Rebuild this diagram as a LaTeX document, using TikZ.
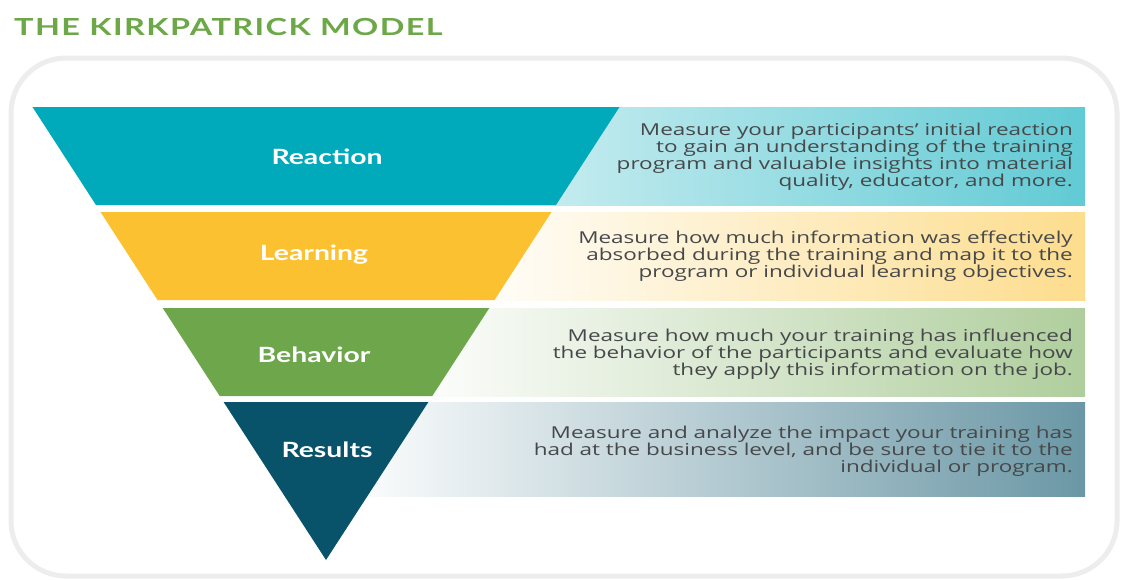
\documentclass[tikz,border=0pt]{standalone}
\usepackage{fontspec}
\setmainfont{Open Sans}
\newfontfamily\descfont[FakeStretch=1.37]{Open Sans}
\newfontfamily\levelfont[FakeStretch=1.35]{Lato}
\newfontfamily\titlefont[FakeStretch=1.38,LetterSpace=6]{Lato}

\definecolor{titlegreen}{RGB}{108,168,72}
\definecolor{reactcol}{RGB}{0,170,186}
\definecolor{learncol}{RGB}{251,193,48}
\definecolor{behavcol}{RGB}{110,166,76}
\definecolor{resultcol}{RGB}{8,82,106}
\definecolor{desctext}{RGB}{70,72,74}

\begin{document}
\begin{tikzpicture}[x=1pt, y=-1pt,
    level/.style = {font=\levelfont\bfseries\fontsize{21}{24}\selectfont, text=white},
    desc/.style = {font=\descfont\fontsize{16.4}{17}\selectfont, text=desctext, align=right, anchor=east, inner sep=0pt}]

    \useasboundingbox (0,0) rectangle (1121,579);

    % outer frame and heading
    \draw[line width=5pt, black!7, rounded corners=55pt] (11,58) rectangle (1117,576);
    \node[anchor=west, inner sep=0pt, text=titlegreen, font=\titlefont\bfseries\fontsize{23.5}{26}\selectfont] (title) at (14,27) {THE KIRKPATRICK MODEL};

    % description panels behind the funnel
    \fill[left color=reactcol!18, right color=reactcol!62] (480,107) rectangle (1085,205);
    \fill[left color=white, right color=learncol!55] (450,212) rectangle (1085,300);
    \fill[left color=white, right color=behavcol!55] (400,308) rectangle (1085,396);
    \fill[left color=white, right color=resultcol!60] (340,402) rectangle (1085,496);

    % the funnel, one slice per level
    \fill[reactcol]  (32.5,107) -- (619.5,107) -- (556,205) -- (96,205) -- cycle;
    \fill[learncol]  (100.5,212) -- (551.5,212) -- (494.5,300) -- (157.5,300) -- cycle;
    \fill[behavcol]  (162.7,308) -- (489.3,308) -- (432.3,396) -- (219.7,396) -- cycle;
    \fill[resultcol] (223.6,402) -- (428.4,402) -- (326,560) -- cycle;

    \node[level] (reaction) at (327,157) {Reaction};
    \node[level] (learning) at (314,255) {Learning};
    \node[level] (behavior) at (314,355) {Behavior};
    \node[level] (results)  at (327,450) {Results};

    \node[desc] (reactiondesc) at (1073,157) {Measure your participants’ initial reaction\\to gain an understanding of the training\\program and valuable insights into material\\quality, educator, and more.};
    \node[desc] (learningdesc) at (1073,256) {Measure how much information was effectively\\absorbed during the training and map it to the\\program or individual learning objectives.};
    \node[desc] (behaviordesc) at (1073,354) {Measure how much your training has influenced\\the behavior of the participants and evaluate how\\they apply this information on the job.};
    \node[desc] (resultsdesc)  at (1073,451) {Measure and analyze the impact your training has\\had at the business level, and be sure to tie it to the\\individual or program.};

\end{tikzpicture}
\end{document}
